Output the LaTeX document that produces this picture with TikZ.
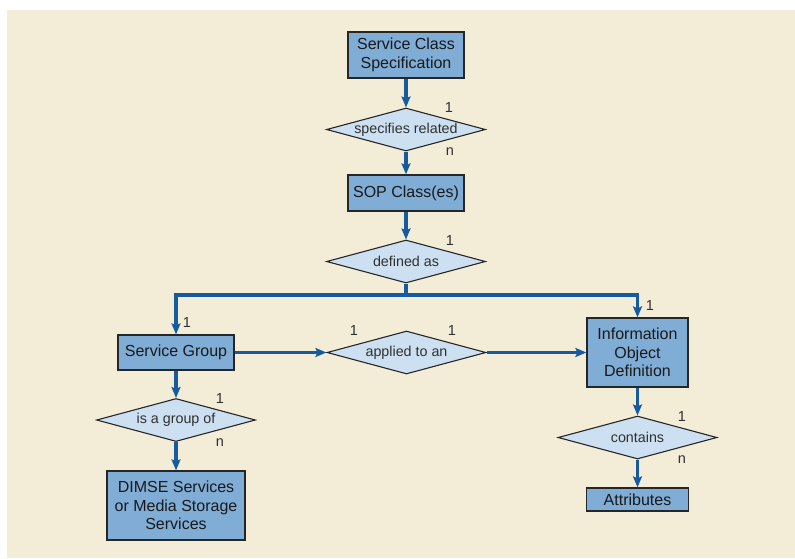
\documentclass[tikz,border=0pt]{standalone}
\usepackage{fontspec}
\setmainfont{Liberation Sans}
\usetikzlibrary{shapes.geometric,arrows.meta}
\definecolor{bg}{RGB}{243,236,214}
\definecolor{boxfill}{RGB}{128,173,214}
\definecolor{dfill}{RGB}{204,224,242}
\definecolor{conn}{RGB}{22,90,160}
\definecolor{txt}{RGB}{25,25,25}
\tikzset{
  entity/.style={draw=black!85, line width=1.3pt, fill=boxfill, inner sep=0pt, align=center,
    font=\fontsize{16}{18.5}\selectfont, text=txt},
  rel/.style={diamond, draw=black!85, line width=1.1pt, fill=dfill, inner sep=0pt, aspect=3.7,
    minimum width=159pt, minimum height=43pt, font=\fontsize{14.3}{16}\selectfont, text=txt!90},
  card/.style={font=\fontsize{14.5}{16}\selectfont, text=txt!90, inner sep=0pt},
  conline/.style={draw=conn, line width=3.2pt},
  arr/.style={conline, -{Stealth[length=11pt,width=9pt,inset=2pt]}},
}
\begin{document}
\begin{tikzpicture}[x=1pt,y=-1pt]
\useasboundingbox (0,0) rectangle (795,558);
\fill[bg] (7,10) rectangle (795,558);
% boxes
\node[entity, minimum width=116pt, minimum height=46pt] (scs) at (406,55) {Service Class\\Specification};
\node[rel] (spec) at (406,129.5) {specifies related};
\node[entity, minimum width=116pt, minimum height=36pt] (sop) at (406,193) {SOP Class(es)};
\node[rel] (defas) at (406,261.5) {defined as};
\coordinate (split) at (406,295);
\node[entity, minimum width=116pt, minimum height=35pt] (sg) at (176,352.5) {Service Group};
\node[rel] (appl) at (406.5,352.5) {applied to an};
\node[entity, minimum width=101pt, minimum height=69pt] (iod) at (637.5,352.5) {Information\\Object\\Definition};
\node[rel] (grp) at (176,420) {is a group of};
\node[entity, minimum width=138pt, minimum height=69pt] (dimse) at (176,505.5) {DIMSE Services\\or Media Storage\\Services};
\node[rel] (cont) at (637.5,437.5) {contains};
\node[entity, minimum width=102pt, minimum height=23pt] (attr) at (637.5,499.5) {Attributes};
% connectors
\draw[arr] (scs.south) -- (spec.north);
\draw[arr] (spec.south) -- (sop.north);
\draw[arr] (sop.south) -- (defas.north);
\draw[conline] (defas.south) -- (split);
\draw[arr] (split) -| (sg.north);
\draw[arr] (split) -| (iod.north);
\draw[arr] (sg.east) -- (appl.west);
\draw[arr] (appl.east) -- (iod.west);
\draw[arr] (sg.south) -- (grp.north);
\draw[arr] (grp.south) -- (dimse.north);
\draw[arr] (iod.south) -- (cont.north);
\draw[arr] (cont.south) -- (attr.north);
% cardinalities
\node[card] (c1) at (449,108) {1};
\node[card] (c2) at (450,152) {n};
\node[card] (c3) at (450,241) {1};
\node[card] (c4) at (187,323) {1};
\node[card] (c5) at (650,306) {1};
\node[card] (c6) at (354,331) {1};
\node[card] (c7) at (452,331) {1};
\node[card] (c8) at (220,399) {1};
\node[card] (c9) at (220,443) {n};
\node[card] (c10) at (682,417) {1};
\node[card] (c11) at (682,460) {n};
\end{tikzpicture}
\end{document}
